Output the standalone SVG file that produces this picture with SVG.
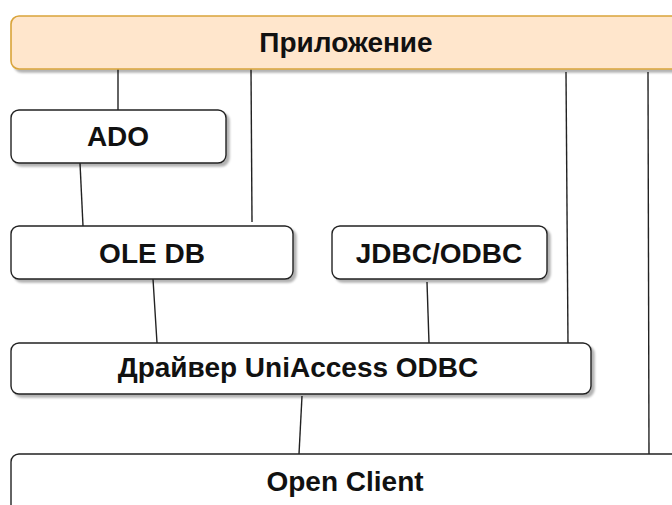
<svg xmlns="http://www.w3.org/2000/svg" width="672" height="505" viewBox="0 0 672 505">
<defs>
<filter id="sh" x="-5%" y="-20%" width="115%" height="150%">
<feDropShadow dx="3" dy="3" stdDeviation="1" flood-color="#000" flood-opacity="0.3"/>
</filter>
<style>
.box{fill:#fff;stroke:#222;stroke-width:1.4;filter:url(#sh)}
.app{fill:#ffe6cc;stroke:#d9a43a;stroke-width:1.6;filter:url(#sh)}
.t{font-family:"Liberation Sans",Arial,sans-serif;font-weight:bold;font-size:28px;fill:#111;text-anchor:middle}
.c{stroke:#222;stroke-width:1.4;fill:none}
</style>
</defs>
<rect width="672" height="505" fill="#fff"/>
<g id="connectors">
<line class="c" x1="118" y1="69" x2="118" y2="110"/>
<line class="c" x1="251" y1="69" x2="252" y2="222"/>
<line class="c" x1="566" y1="72" x2="568" y2="344"/>
<line class="c" x1="648" y1="72" x2="649" y2="455"/>
<line class="c" x1="80" y1="163" x2="83" y2="226"/>
<line class="c" x1="153" y1="279" x2="157" y2="343"/>
<line class="c" x1="427" y1="282" x2="429" y2="343"/>
<line class="c" x1="302" y1="396" x2="299" y2="454"/>
</g>
<g id="app">
<rect class="app" x="11" y="16" width="680" height="53" rx="8"/>
<text class="t" x="346" y="52">Приложение</text>
</g>
<g id="ado">
<rect class="box" x="11" y="110" width="215" height="53" rx="8"/>
<text class="t" x="118" y="146">ADO</text>
</g>
<g id="oledb">
<rect class="box" x="11" y="226" width="282" height="53" rx="8"/>
<text class="t" x="152" y="263">OLE DB</text>
</g>
<g id="jdbc">
<rect class="box" x="332" y="226" width="215" height="53" rx="8"/>
<text class="t" x="439" y="263">JDBC/ODBC</text>
</g>
<g id="driver">
<rect class="box" x="11" y="343" width="580" height="51" rx="8"/>
<text class="t" x="298" y="377">Драйвер UniAccess ODBC</text>
</g>
<g id="openclient">
<rect class="box" x="11" y="454" width="680" height="70" rx="8"/>
<text class="t" x="345" y="491">Open Client</text>
</g>
</svg>
